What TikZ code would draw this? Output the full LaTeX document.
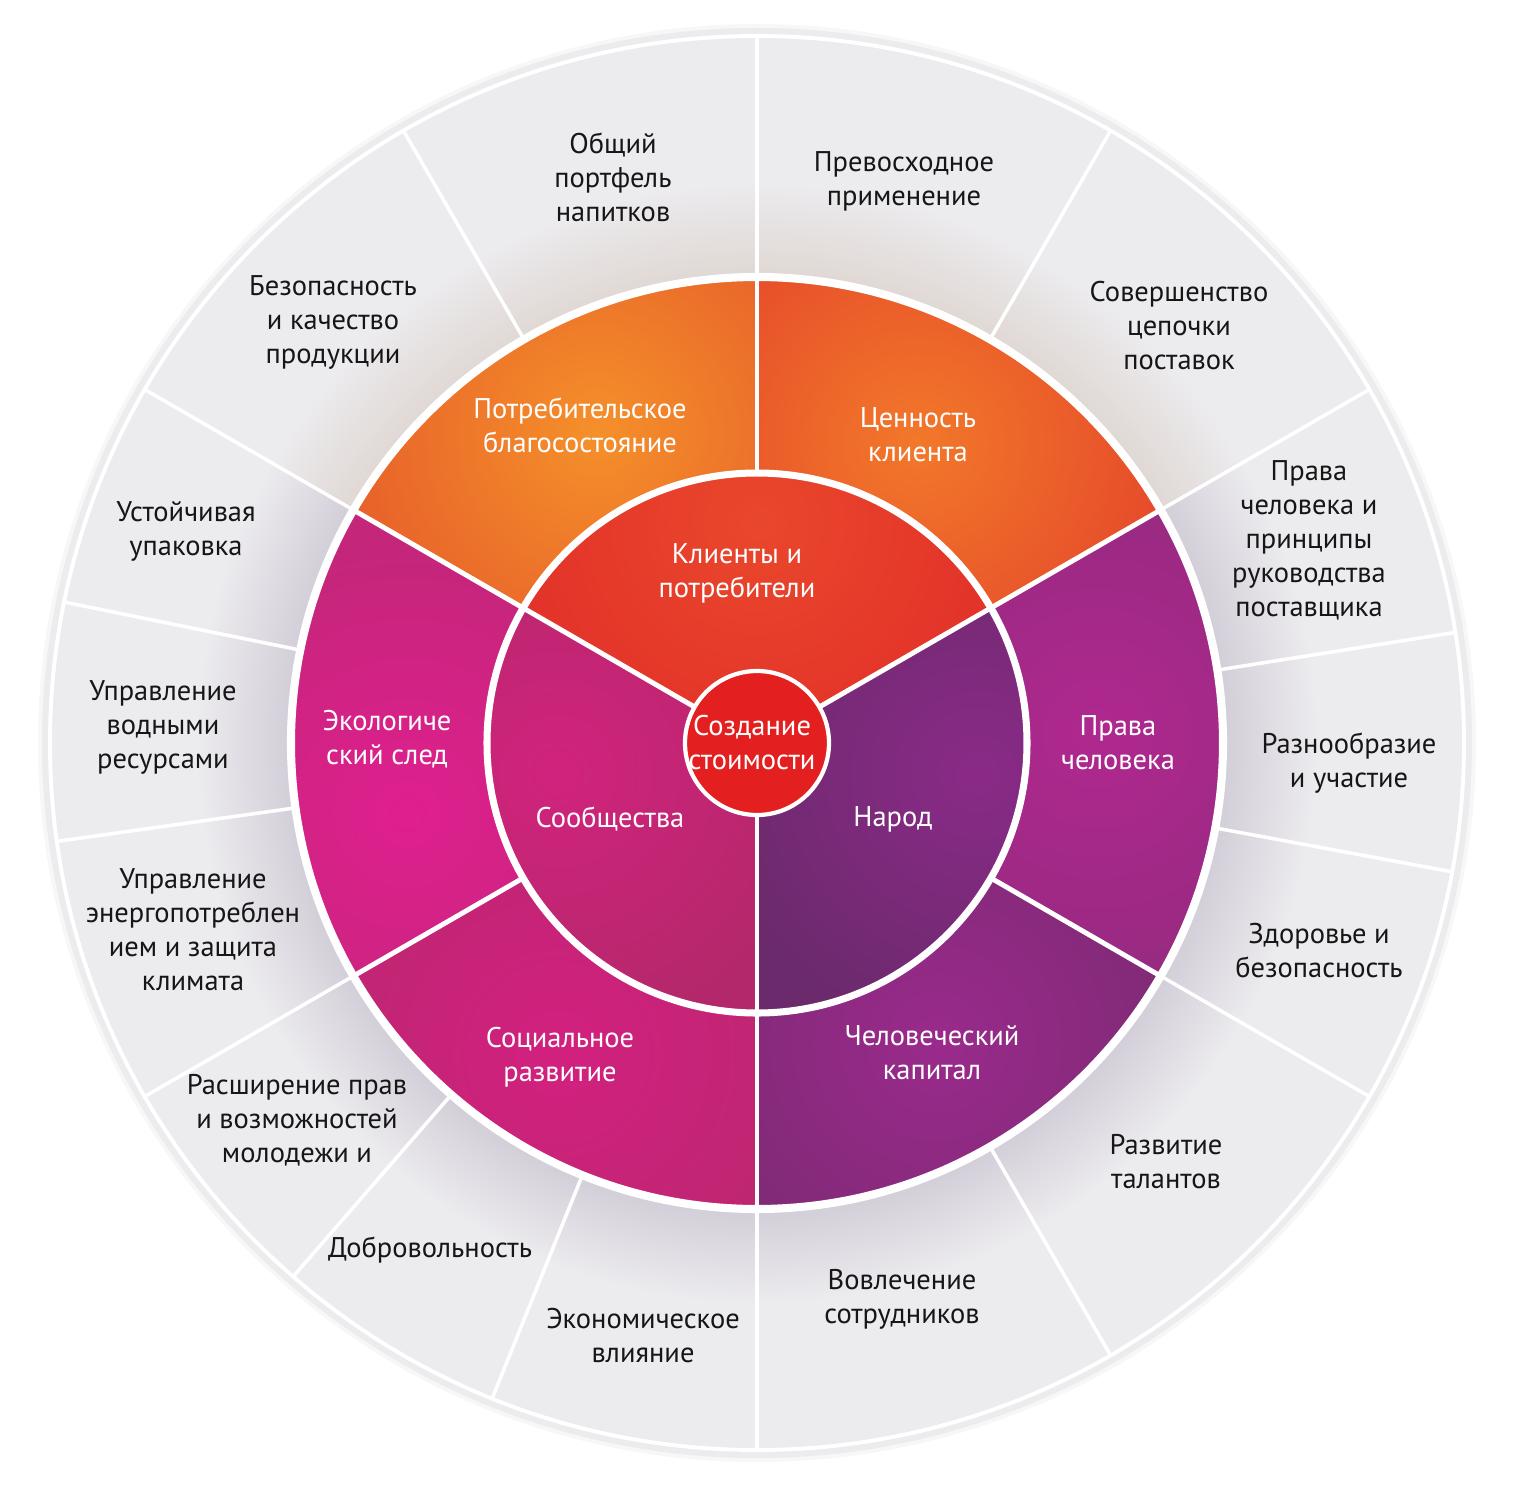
\documentclass[tikz,border=0pt]{standalone}
\usepackage{fontspec}
\setmainfont{PT Sans}
\definecolor{ringc}{HTML}{ECEBEE}
\definecolor{glowc}{HTML}{D3CFD9}
\definecolor{warmc}{HTML}{E0D8D4}
\definecolor{txtc}{HTML}{161616}
\definecolor{corec}{HTML}{E3201F}
\definecolor{ma1}{HTML}{F5902A}\definecolor{mb1}{HTML}{E65E2A}
\definecolor{ma2}{HTML}{F2782A}\definecolor{mb2}{HTML}{E5482A}
\definecolor{ma3}{HTML}{B0288F}\definecolor{mb3}{HTML}{952A7F}
\definecolor{ma4}{HTML}{9A2A8C}\definecolor{mb4}{HTML}{7D2A73}
\definecolor{ma5}{HTML}{D2207F}\definecolor{mb5}{HTML}{BC2770}
\definecolor{ma6}{HTML}{DF1F8E}\definecolor{mb6}{HTML}{C4267A}
\definecolor{ia1}{HTML}{E9472B}\definecolor{ib1}{HTML}{E2302A}
\definecolor{ia2}{HTML}{D1237D}\definecolor{ib2}{HTML}{B3286A}
\definecolor{ia3}{HTML}{8A2A88}\definecolor{ib3}{HTML}{6B2A6B}
\pgfdeclareradialshading{ringglow}{\pgfpoint{0bp}{0bp}}{color(0bp)=(glowc); color(16.4bp)=(glowc); color(19.6bp)=(ringc); color(25bp)=(ringc); color(50bp)=(ringc)}
\pgfdeclareradialshading{warmglow}{\pgfpoint{0bp}{0bp}}{color(0bp)=(warmc); color(16.4bp)=(warmc); color(19.6bp)=(ringc); color(25bp)=(ringc); color(50bp)=(ringc)}
\newcommand{\annsec}[4]{(#1:#3) -- (#1:#4) arc[start angle=#1, end angle=#2, radius=#4] -- (#2:#3) arc[start angle=#2, end angle=#1, radius=#3] -- cycle}
\newcommand{\shsec}[8]{%
  \fill[#8] \annsec{#1}{#2}{#3}{#4};
  \begin{scope}
    \clip \annsec{#1}{#2}{#3}{#4};
    \shade[inner color=#7, outer color=#8] (#5,#6) circle (2.7);
  \end{scope}}
\begin{document}
\begin{tikzpicture}[
  olbl/.style={align=center, text=txtc, font=\fontsize{8.1}{9.67}\selectfont},
  wlbl/.style={align=center, text=white, font=\fontsize{8.1}{9.67}\selectfont},
  odiv/.style={white, line width=1pt},
  mdiv/.style={white, line width=1.4pt},
  ringline/.style={white, line width=2.3pt}]
\useasboundingbox (-7.57,-7.46) rectangle (7.59,7.43);
% outer disc
\fill[black!3] (0,0) circle (7.19);
\shade[shading=ringglow] (0,0) circle (7.15);
\begin{scope}
  \clip \annsec{30}{150}{4.5}{7.0};
  \shade[shading=warmglow] (0,0) circle (7.15);
\end{scope}
\draw[white, line width=1.1pt] (0,0) circle (7.07);
\foreach \a in {90,120,150,168.5,188,210,229,248,270,300,330,349.5,9,30,60}
  \draw[odiv] (\a:4.66) -- (\a:7.07);
% middle ring sectors
\shsec{90}{150}{2.70}{4.66}{-1.6}{3.1}{ma1}{mb1}
\shsec{30}{90}{2.70}{4.66}{1.6}{3.0}{ma2}{mb2}
\shsec{-30}{30}{2.70}{4.66}{3.4}{0.1}{ma3}{mb3}
\shsec{-90}{-30}{2.70}{4.66}{1.8}{-3.0}{ma4}{mb4}
\shsec{210}{270}{2.70}{4.66}{-2.0}{-3.1}{ma5}{mb5}
\shsec{150}{210}{2.70}{4.66}{-3.5}{-0.7}{ma6}{mb6}
% inner ring sectors
\shsec{30}{150}{0.72}{2.70}{0}{2.2}{ia1}{ib1}
\shsec{150}{270}{0.72}{2.70}{-2.0}{-0.3}{ia2}{ib2}
\shsec{270}{390}{0.72}{2.70}{2.2}{-0.3}{ia3}{ib3}
% white separators
\foreach \a in {30,90,150,210,270,330}
  \draw[mdiv] (\a:2.70) -- (\a:4.66);
\foreach \a in {30,150,270}
  \draw[mdiv] (\a:0.72) -- (\a:2.70);
\draw[ringline] (0,0) circle (4.66);
\draw[white, line width=2pt] (0,0) circle (2.70);
\node[circle, fill=corec, draw=white, line width=1.2pt, minimum size=1.44cm, inner sep=0pt] (core) at (0,0) {};
% labels: centre
\node[wlbl] (tcore) at (-0.05,0) {Создание\\стоимости};
% inner ring
\node[wlbl] (i1) at (-0.20,1.70) {Клиенты и\\потребители};
\node[wlbl] (i2) at (-1.47,-0.76) {Сообщества};
\node[wlbl] (i3) at (1.36,-0.76) {Народ};
% middle ring
\node[wlbl] (m1) at (-1.77,3.18) {Потребительское\\благосостояние};
\node[wlbl] (m2) at (1.61,3.08) {Ценность\\клиента};
\node[wlbl] (m3) at (3.61,0.0) {Права\\человека};
\node[wlbl] (m4) at (1.75,-3.10) {Человеческий\\капитал};
\node[wlbl] (m5) at (-1.97,-3.14) {Социальное\\развитие};
\node[wlbl] (m6) at (-3.70,0.04) {Экологиче\\ский след};
% outer ring
\node[olbl] (o1) at (-1.44,5.66) {Общий\\портфель\\напитков};
\node[olbl] (o2) at (1.47,5.62) {Превосходное\\применение};
\node[olbl] (o3) at (4.22,4.17) {Совершенство\\цепочки\\поставок};
\node[olbl] (o4) at (5.52,2.03) {Права\\человека и\\принципы\\руководства\\поставщика};
\node[olbl] (o5) at (5.92,-0.20) {Разнообразие\\и участие};
\node[olbl] (o6) at (5.62,-2.08) {Здоровье и\\безопасность};
\node[olbl] (o7) at (4.09,-4.19) {Развитие\\талантов};
\node[olbl] (o8) at (1.45,-5.56) {Вовлечение\\сотрудников};
\node[olbl] (o9) at (-1.14,-5.93) {Экономическое\\влияние};
\node[olbl] (o10) at (-3.27,-5.07) {Добровольность};
\node[olbl] (o11) at (-4.60,-3.77) {Расширение прав\\и возможностей\\молодежи и};
\node[olbl] (o12) at (-5.64,-1.87) {Управление\\энергопотреблен\\ием и защита\\климата};
\node[olbl] (o13) at (-5.94,0.16) {Управление\\водными\\ресурсами};
\node[olbl] (o14) at (-5.71,2.12) {Устойчивая\\упаковка};
\node[olbl] (o15) at (-4.24,4.21) {Безопасность\\и качество\\продукции};
\end{tikzpicture}
\end{document}
